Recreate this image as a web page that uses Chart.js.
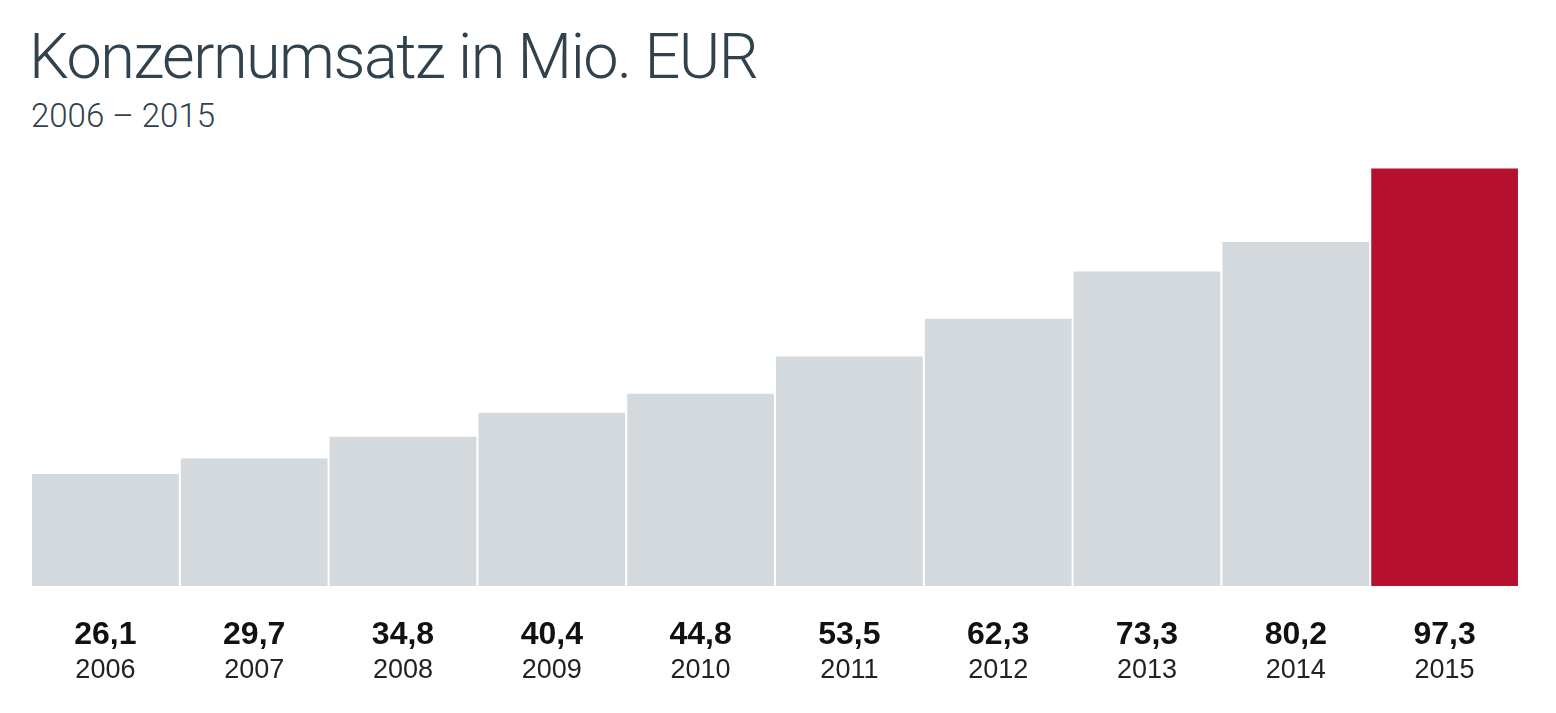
<!DOCTYPE html>
<html>
<head>
<meta charset="utf-8">
<script src="https://cdn.jsdelivr.net/npm/chart.js@4"></script>
<style>
  html, body { margin: 0; padding: 0; background: #fff; }
  #wrap { position: relative; width: 1556px; height: 713px; }
  #title { position: absolute; left: 29px; top: 25px; font-family: Roboto, "Liberation Sans", sans-serif; font-weight: 300; font-size: 63px; letter-spacing: -1.5px; line-height: 1; color: #30424e; white-space: nowrap; }
  #subtitle { position: absolute; left: 31px; top: 99px; font-family: Roboto, "Liberation Sans", sans-serif; font-weight: 300; font-size: 33px; line-height: 1; color: #30424e; white-space: nowrap; }
  canvas { position: absolute; left: 0; top: 0; }
</style>
</head>
<body>
<div id="wrap">
  <div id="title">Konzernumsatz in Mio. EUR</div>
  <div id="subtitle">2006 – 2015</div>
  <canvas id="umsatzChart" width="1556" height="713"></canvas>
</div>
<script>
// Chart data
const years = ['2006', '2007', '2008', '2009', '2010', '2011', '2012', '2013', '2014', '2015'];
const revenue = [26.1, 29.7, 34.8, 40.4, 44.8, 53.5, 62.3, 73.3, 80.2, 97.3];
const valueLabels = ['26,1', '29,7', '34,8', '40,4', '44,8', '53,5', '62,3', '73,3', '80,2', '97,3'];

const greyBar = '#d4d9dd';
const redBar = '#b5112f';

// Draws the bold value and the year under each bar
const barLabelPlugin = {
    id: 'barLabels',
    afterDraw(chart) {
        const c = chart.ctx;
        const meta = chart.getDatasetMeta(0);
        const bottom = chart.chartArea.bottom;
        c.save();
        c.textAlign = 'center';
        c.textBaseline = 'middle';
        meta.data.forEach((bar, i) => {
            c.font = 'bold 32px "Liberation Sans", Arial, sans-serif';
            c.fillStyle = '#111';
            c.fillText(valueLabels[i], bar.x, bottom + 49);
            c.font = '27px "Liberation Sans", Arial, sans-serif';
            c.fillStyle = '#222';
            c.fillText(years[i], bar.x, bottom + 85);
        });
        c.restore();
    }
};

const ctx = document.getElementById('umsatzChart').getContext('2d');
new Chart(ctx, {
    type: 'bar',
    data: {
        labels: years,
        datasets: [{
            data: revenue,
            backgroundColor: years.map((y, i) => i === years.length - 1 ? redBar : greyBar),
            borderWidth: 0,
            barPercentage: 0.986,
            categoryPercentage: 1.0
        }]
    },
    options: {
        responsive: false,
        animation: false,
        layout: { padding: { top: 157, left: 31, right: 37, bottom: 127 } },
        plugins: {
            legend: { display: false },
            tooltip: { enabled: false }
        },
        scales: {
            x: { display: false },
            y: { display: false, min: 0, max: 100 }
        }
    },
    plugins: [barLabelPlugin]
});
</script>
</body>
</html>
